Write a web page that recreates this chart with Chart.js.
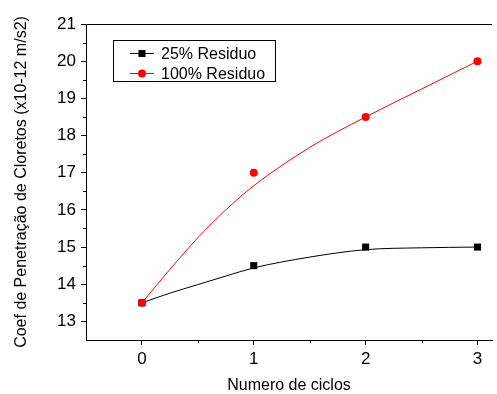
<!DOCTYPE html>
<html>
<head>
<meta charset="utf-8">
<script src="https://cdn.jsdelivr.net/npm/chart.js@4.4.1/dist/chart.umd.min.js"></script>
<style>
  html, body { margin: 0; padding: 0; background: #fff; overflow: hidden; }
  #wrap { width: 497px; height: 394px; }
</style>
</head>
<body>
<div id="wrap"><canvas id="lineChart"></canvas></div>
<script>
// measured points
const ciclos = [0, 1, 2, 3];
const residuo25 = [13.5, 14.5, 15, 15];
const residuo100 = [13.5, 17, 18.5, 20];

// fitted curves
const fitX = [0, 0.25, 0.5, 0.75, 1, 1.5, 2, 2.5, 3];
const fit25 = [13.5, 13.76, 13.99, 14.22, 14.44, 14.73, 14.93, 14.98, 15];
const fit100 = [13.5, 14.4, 15.25, 16.0, 16.65, 17.68, 18.5, 19.25, 20];

const xTicks = [0, 1, 2, 3];
const xMinorTicks = [0.5, 1.5, 2.5];
const yTicks = [13, 14, 15, 16, 17, 18, 19, 20, 21];
const yMinorTicks = [13.5, 14.5, 15.5, 16.5, 17.5, 18.5, 19.5, 20.5];

const seriesNames = ['25% Residuo', '100% Residuo'];
const FONT = 'Liberation Sans, Arial, sans-serif';

const pts = (xs, ys) => xs.map((x, i) => ({ x: x, y: ys[i] }));

// top frame line, minor ticks and the boxed legend
const framePlugin = {
  id: 'frame',
  afterDraw(chart) {
    const ctx = chart.ctx;
    const area = chart.chartArea;
    const xs = chart.scales.x;
    const ys = chart.scales.y;
    ctx.save();
    ctx.strokeStyle = '#000';
    ctx.lineWidth = 1;
    ctx.beginPath();
    ctx.moveTo(area.left, area.top + 0.5);
    ctx.lineTo(area.right, area.top + 0.5);
    xMinorTicks.forEach(v => {
      const px = Math.round(xs.getPixelForValue(v)) + 0.5;
      ctx.moveTo(px, area.bottom);
      ctx.lineTo(px, area.bottom + 3);
    });
    yMinorTicks.forEach(v => {
      const py = Math.round(ys.getPixelForValue(v)) + 0.5;
      ctx.moveTo(area.left, py);
      ctx.lineTo(area.left - 3, py);
    });
    ctx.stroke();

    // legend
    const bx = 113.5, by = 40.5, bw = 162, bh = 41;
    ctx.strokeRect(bx, by, bw, bh);
    const rows = [
      { y: 53.5, color: '#000', style: 'rect' },
      { y: 73.5, color: '#ff0000', style: 'circle' }
    ];
    ctx.font = '16px ' + FONT;
    ctx.textBaseline = 'middle';
    rows.forEach((r, i) => {
      ctx.strokeStyle = r.color;
      ctx.fillStyle = r.color;
      ctx.beginPath();
      ctx.moveTo(130, r.y);
      ctx.lineTo(154, r.y);
      ctx.stroke();
      if (r.style === 'rect') {
        ctx.fillRect(138.5, r.y - 3.5, 7, 7);
      } else {
        ctx.beginPath();
        ctx.arc(142, r.y, 4, 0, Math.PI * 2);
        ctx.fill();
      }
      ctx.fillStyle = '#000';
      ctx.fillText(seriesNames[i], 161, r.y + 1);
    });
    ctx.restore();
  }
};

const ctx1 = document.getElementById('lineChart').getContext('2d');

// first dataset is drawn last, so red markers sit on top
const chartData1 = {
  datasets: [
    {
      label: seriesNames[1],
      data: pts(ciclos, residuo100),
      showLine: false,
      pointStyle: 'circle',
      pointRadius: 4,
      backgroundColor: '#ff0000',
      borderColor: '#ff0000',
      borderWidth: 0
    },
    {
      label: seriesNames[0],
      data: pts(ciclos, residuo25),
      showLine: false,
      pointStyle: 'rect',
      pointRadius: 5,
      backgroundColor: '#000',
      borderColor: '#000',
      borderWidth: 0
    },
    {
      label: 'fit 25',
      data: pts(fitX, fit25),
      showLine: true,
      pointRadius: 0,
      borderColor: '#000',
      borderWidth: 1,
      cubicInterpolationMode: 'monotone'
    },
    {
      label: 'fit 100',
      data: pts(fitX, fit100),
      showLine: true,
      pointRadius: 0,
      borderColor: '#ff0000',
      borderWidth: 1,
      cubicInterpolationMode: 'monotone'
    }
  ]
};

const config1 = {
  type: 'scatter',
  data: chartData1,
  options: {
    responsive: true,
    maintainAspectRatio: false,
    animation: false,
    layout: { padding: { top: 24, right: 0, left: 0, bottom: 0 } },
    plugins: {
      legend: { display: false },
      tooltip: { enabled: false }
    },
    scales: {
      x: {
        type: 'linear',
        min: -0.5,
        max: 3.13,
        afterBuildTicks: s => { s.ticks = xTicks.map(v => ({ value: v })); },
        afterFit: s => { s.height = 54; },
        grid: { drawOnChartArea: false, tickLength: 5, color: '#000', tickColor: '#000' },
        border: { display: true, color: '#000', width: 1 },
        ticks: { color: '#000', font: { family: FONT, size: 17 }, padding: 4, maxRotation: 0 },
        title: {
          display: true,
          text: 'Numero de ciclos',
          color: '#000',
          font: { family: FONT, size: 16, lineHeight: 1 },
          padding: { top: 0, bottom: 0 }
        }
      },
      y: {
        min: 12.5,
        max: 21,
        afterBuildTicks: s => { s.ticks = yTicks.map(v => ({ value: v })); },
        afterFit: s => { s.width = 86; },
        grid: { drawOnChartArea: false, tickLength: 5, color: '#000', tickColor: '#000' },
        border: { display: true, color: '#000', width: 1 },
        ticks: { color: '#000', font: { family: FONT, size: 17 }, padding: 5 },
        title: {
          display: true,
          text: 'Coef de Penetração de Cloretos (x10-12 m/s2)',
          color: '#000',
          font: { family: FONT, size: 16, lineHeight: 1 },
          padding: { top: 14, bottom: 0 }
        }
      }
    }
  },
  plugins: [framePlugin]
};

const myChart1 = new Chart(ctx1, config1);
</script>
</body>
</html>
